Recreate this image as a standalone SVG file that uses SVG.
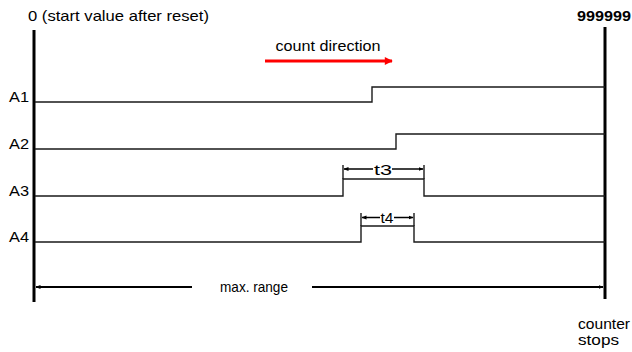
<svg xmlns="http://www.w3.org/2000/svg" width="632" height="352" viewBox="0 0 632 352">
<defs>
<style>
text{font-family:"Liberation Sans",Arial,sans-serif;font-size:15px;fill:#000}
.axis{stroke:#000;stroke-width:3;fill:none}
.sig{stroke:#1a1a1a;stroke-width:1.4;fill:none}
.dim{stroke:#000;stroke-width:1.5;fill:none}
.range{stroke:#000;stroke-width:2;fill:none}
</style>
<marker id="ah" viewBox="0 0 10 10" refX="9" refY="5" markerWidth="5" markerHeight="5" orient="auto-start-reverse" markerUnits="userSpaceOnUse">
<path d="M0,1 L10,5 L0,9 Z" fill="#000"/>
</marker>
<marker id="ahr" viewBox="0 0 10 10" refX="9" refY="5" markerWidth="10" markerHeight="8" orient="auto" markerUnits="userSpaceOnUse">
<path d="M0,0 L10,5 L0,10 Z" fill="#f00"/>
</marker>
</defs>
<rect width="632" height="352" fill="#fff"/>

<g id="axis-start">
<line class="axis" x1="34" y1="30" x2="34" y2="302"/>
<text x="28" y="21" textLength="181" lengthAdjust="spacingAndGlyphs">0 (start value after reset)</text>
</g>
<g id="axis-end">
<line class="axis" x1="605" y1="27" x2="605" y2="299"/>
<text x="577" y="21" font-weight="bold" font-size="14" textLength="54" lengthAdjust="spacingAndGlyphs">999999</text>
<text x="578" y="329" font-size="14" textLength="52" lengthAdjust="spacingAndGlyphs">counter</text>
<text x="578" y="345" font-size="14" textLength="41" lengthAdjust="spacingAndGlyphs">stops</text>
</g>

<g id="A1">
<text x="9" y="102" textLength="20" lengthAdjust="spacingAndGlyphs">A1</text>
<polyline class="sig" points="35,102 372,102 372,87 605,87"/>
</g>
<g id="A2">
<text x="9" y="149" textLength="20" lengthAdjust="spacingAndGlyphs">A2</text>
<polyline class="sig" points="35,149 396,149 396,134 605,134"/>
</g>
<g id="A3">
<text x="9" y="196" textLength="20" lengthAdjust="spacingAndGlyphs">A3</text>
<polyline class="sig" points="35,196 343,196 343,179 424,179 424,196 605,196"/>
<line class="sig" x1="343" y1="179" x2="343" y2="165"/>
<line class="sig" x1="424" y1="179" x2="424" y2="165"/>
<text x="383" y="175" text-anchor="middle" font-size="16" textLength="18" lengthAdjust="spacingAndGlyphs">t3</text>
</g>
<g id="A4">
<text x="9" y="242" textLength="20" lengthAdjust="spacingAndGlyphs">A4</text>
<polyline class="sig" points="35,242 361,242 361,226 414,226 414,242 605,242"/>
<line class="sig" x1="361" y1="226" x2="361" y2="213"/>
<line class="sig" x1="414" y1="226" x2="414" y2="213"/>
<text x="387" y="223" text-anchor="middle" font-size="16" textLength="13" lengthAdjust="spacingAndGlyphs">t4</text>
</g>

<g id="connectors">
<text x="328" y="51" text-anchor="middle" textLength="105" lengthAdjust="spacingAndGlyphs">count direction</text>
<line x1="265" y1="61" x2="392" y2="61" stroke="#f00" stroke-width="3" marker-end="url(#ahr)"/>
<line class="dim" x1="373" y1="169" x2="344" y2="169" marker-end="url(#ah)"/>
<line class="dim" x1="392" y1="169" x2="423" y2="169" marker-end="url(#ah)"/>
<line class="dim" x1="380" y1="217.5" x2="362" y2="217.5" marker-end="url(#ah)"/>
<line class="dim" x1="394" y1="217.5" x2="413" y2="217.5" marker-end="url(#ah)"/>
<line class="range" x1="192" y1="287" x2="36" y2="287" marker-end="url(#ah)"/>
<line class="range" x1="312" y1="287" x2="603" y2="287" marker-end="url(#ah)"/>
<text x="254" y="292" text-anchor="middle" textLength="68" lengthAdjust="spacingAndGlyphs">max. range</text>
</g>
</svg>
